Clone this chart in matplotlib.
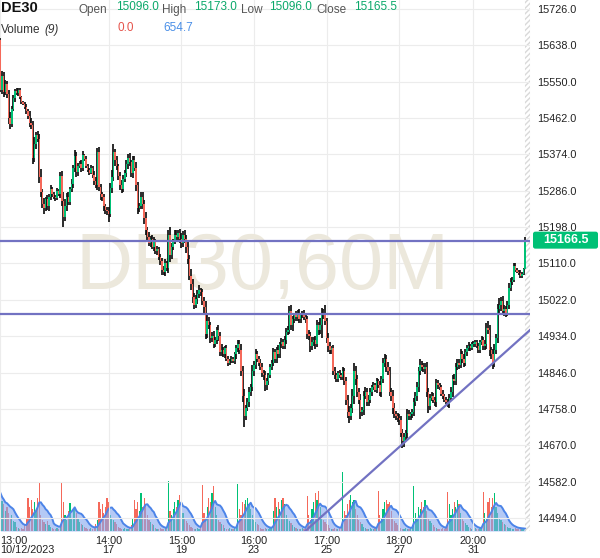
import numpy as np
import pandas as pd
import matplotlib
matplotlib.use("Agg")
import matplotlib.pyplot as plt
from matplotlib.patches import Rectangle, FancyBboxPatch

plt.rcParams['font.family'] = ['Liberation Sans', 'DejaVu Sans']

# hourly DE30 bars, 12 Oct 13:00 .. 2 Nov
first_open = 15651.0
close = [
    15530, 15565, 15525, 15545, 15520, 15462, 15448, 15485, 15510, 15528, 15522, 15530, 15512, 15500, 15496, 15488, 15478, 15468, 15450, 15445,
    15365, 15400, 15420, 15412, 15320, 15282, 15255, 15245, 15265, 15248, 15270, 15290, 15278, 15272, 15268, 15285, 15278, 15322, 15262, 15222,
    15250, 15272, 15260, 15290, 15302, 15340, 15370, 15332, 15346, 15352, 15340, 15372, 15364, 15345, 15336, 15330, 15342, 15325, 15310, 15300,
    15380, 15295, 15278, 15270, 15250, 15240, 15236, 15230, 15292, 15320, 15380, 15360, 15345, 15322, 15300, 15290, 15315, 15330, 15350, 15366,
    15355, 15330, 15360, 15342, 15300, 15245, 15250, 15272, 15255, 15220, 15190, 15175, 15160, 15170, 15150, 15165, 15140, 15145, 15125, 15115,
    15095, 15090, 15110, 15100, 15180, 15130, 15150, 15162, 15180, 15175, 15185, 15170, 15160, 15180, 15170, 15150, 15120, 15080, 15060, 15030,
    15010, 15025, 15035, 15045, 15040, 15020, 15005, 14940, 14970, 14960, 14930, 14935, 14915, 14925, 14950, 14935, 14895, 14900, 14890, 14905,
    14880, 14870, 14875, 14880, 14875, 14890, 14905, 14915, 14900, 14850, 14790, 14740, 14760, 14775, 14800, 14810, 14850, 14865, 14890, 14880,
    14870, 14860, 14845, 14840, 14815, 14825, 14840, 14860, 14870, 14895, 14880, 14900, 14890, 14915, 14920, 14910, 14925, 14945, 14950, 14995,
    14960, 14975, 14985, 14980, 14990, 14975, 14985, 14990, 14980, 14975, 14940, 14935, 14910, 14920, 14925, 14915, 14960, 14950, 14960, 14990,
    14985, 14970, 14930, 14910, 14900, 14905, 14850, 14840, 14830, 14845, 14840, 14835, 14850, 14825, 14780, 14750, 14740, 14760, 14790, 14850,
    14830, 14800, 14780, 14750, 14755, 14790, 14800, 14775, 14780, 14800, 14810, 14815, 14805, 14825, 14815, 14800, 14830, 14870, 14880, 14860,
    14850, 14800, 14790, 14760, 14745, 14740, 14735, 14730, 14700, 14680, 14690, 14700, 14745, 14740, 14745, 14750, 14775, 14790, 14810, 14850,
    14865, 14860, 14855, 14860, 14800, 14765, 14785, 14790, 14780, 14775, 14820, 14815, 14810, 14795, 14790, 14780, 14775, 14770, 14785, 14800,
    14830, 14825, 14860, 14870, 14865, 14890, 14880, 14870, 14895, 14905, 14910, 14905, 14915, 14915, 14920, 14910, 14900, 14920, 14925, 14910,
    14915, 14955, 14950, 14900, 14890, 14870, 14900, 14930, 15000, 15010, 15020, 14995, 15000, 14990, 15010, 15050, 15065, 15070, 15105, 15095,
    15090, 15088, 15080, 15085, 15096, 15165.5,
]
wick_up = [
    4, 12, 8, 10, 6, 9, 14, 6, 8, 5, 6, 4, 5, 3, 4, 6, 8, 5, 10, 12,
    9, 15, 8, 10, 12, 18, 9, 14, 6, 11, 8, 10, 5, 6, 4, 7, 5, 9, 12, 20,
    16, 8, 10, 6, 12, 9, 14, 10, 7, 6, 8, 10, 4, 6, 5, 4, 6, 5, 8, 10,
    10, 12, 8, 6, 9, 5, 7, 10, 14, 16, 20, 8, 10, 6, 9, 12, 8, 6, 10, 8,
    12, 6, 9, 10, 14, 8, 6, 12, 10, 8, 14, 9, 12, 6, 10, 8, 5, 7, 6, 9,
    8, 10, 12, 6, 10, 18, 9, 8, 12, 10, 6, 8, 14, 9, 10, 8, 12, 10, 16, 12,
    9, 8, 10, 12, 6, 8, 10, 14, 16, 10, 8, 9, 12, 8, 6, 10, 8, 14, 9, 6,
    8, 6, 5, 7, 4, 6, 8, 10, 9, 14, 12, 16, 8, 10, 12, 9, 14, 10, 12, 8,
    6, 8, 10, 6, 9, 8, 5, 7, 6, 10, 9, 8, 12, 6, 10, 8, 9, 10, 8, 12,
    14, 8, 6, 9, 8, 10, 6, 5, 7, 6, 8, 10, 9, 12, 8, 10, 14, 9, 18, 12,
    10, 25, 8, 12, 9, 6, 8, 10, 6, 5, 7, 6, 9, 8, 10, 12, 14, 10, 16, 20,
    12, 10, 9, 14, 8, 12, 10, 9, 12, 8, 6, 8, 5, 7, 6, 10, 8, 12, 10, 9,
    12, 10, 8, 14, 12, 9, 8, 10, 12, 9, 10, 8, 12, 10, 6, 8, 9, 10, 12, 10,
    14, 9, 8, 10, 12, 8, 10, 9, 6, 8, 10, 7, 5, 6, 8, 5, 7, 6, 8, 10,
    9, 12, 10, 8, 9, 12, 8, 10, 9, 8, 10, 6, 5, 7, 6, 5, 8, 6, 9, 8,
    10, 12, 16, 10, 9, 12, 14, 10, 12, 16, 10, 12, 9, 8, 10, 12, 9, 8, 6, 5,
    4, 5, 6, 4, 3, 7.5,
]
wick_dn = [
    6, 10, 12, 8, 10, 14, 12, 8, 6, 9, 5, 6, 4, 5, 3, 4, 5, 8, 10, 9,
    14, 10, 12, 8, 15, 12, 10, 14, 9, 8, 10, 6, 8, 5, 6, 4, 5, 10, 12, 24,
    10, 12, 8, 9, 6, 10, 8, 12, 10, 6, 8, 5, 6, 4, 5, 6, 4, 7, 9, 8,
    12, 10, 14, 8, 12, 10, 9, 20, 8, 12, 10, 14, 8, 10, 12, 9, 6, 8, 10, 12,
    8, 10, 12, 9, 14, 16, 10, 8, 12, 14, 10, 12, 8, 10, 6, 9, 8, 10, 6, 8,
    12, 9, 10, 8, 14, 16, 10, 8, 6, 9, 8, 10, 12, 9, 10, 14, 12, 10, 14, 16,
    10, 8, 12, 9, 8, 10, 14, 12, 10, 8, 12, 10, 9, 8, 10, 12, 8, 10, 6, 8,
    7, 8, 6, 5, 6, 8, 10, 9, 8, 12, 16, 26, 10, 8, 12, 10, 9, 12, 10, 8,
    9, 8, 10, 12, 14, 10, 8, 6, 9, 8, 12, 10, 8, 9, 10, 8, 6, 9, 8, 10,
    12, 14, 10, 8, 9, 10, 8, 6, 7, 8, 12, 10, 14, 9, 10, 12, 8, 14, 10, 30,
    10, 8, 12, 14, 10, 8, 9, 10, 6, 8, 7, 6, 8, 10, 12, 14, 16, 10, 12, 20,
    14, 12, 10, 16, 10, 12, 8, 10, 9, 8, 10, 7, 6, 8, 7, 10, 12, 9, 10, 12,
    9, 10, 12, 14, 10, 9, 8, 12, 10, 16, 14, 10, 12, 9, 8, 10, 8, 9, 12, 10,
    9, 10, 8, 12, 14, 16, 10, 9, 8, 10, 12, 9, 7, 6, 8, 6, 5, 8, 10, 9,
    12, 10, 8, 9, 10, 8, 12, 10, 8, 10, 8, 6, 5, 6, 8, 5, 7, 6, 8, 10,
    9, 12, 10, 14, 12, 15, 10, 8, 12, 10, 14, 9, 12, 10, 8, 9, 6, 8, 5, 6,
    4, 5, 6, 4, 3, 0,
]
# volume in hundreds of lots
volume = [
    34, 27, 24, 18, 22, 16, 12, 14, 9, 8, 4, 3, 2, 3, 2, 5,
    12, 30, 22, 28, 20, 26, 18, 30, 44, 14, 10, 8, 6, 9, 5, 4, 3, 2, 2, 3, 2, 5,
    44, 26, 14, 10, 18, 25, 12, 20, 22, 16, 12, 8, 6, 5, 4, 3, 2, 2, 3, 2, 3, 6,
    10, 26, 20, 24, 16, 22, 30, 26, 14, 12, 10, 8, 6, 4, 3, 2, 2, 3, 2, 2, 3, 5,
    12, 28, 20, 26, 18, 34, 22, 30, 24, 14, 10, 8, 6, 5, 3, 2, 2, 3, 2, 2, 3, 4,
    45, 18, 14, 20, 26, 22, 28, 32, 26, 16, 12, 9, 7, 5, 4, 3, 2, 2, 3, 2, 4,
    41, 16, 12, 22, 30, 26, 34, 40, 22, 14, 10, 8, 6, 5, 3, 2, 2, 3, 2, 2, 3, 5,
    42, 20, 14, 26, 24, 28, 30, 24, 20, 14, 10, 8, 6, 5, 3, 2, 2, 3, 2, 2, 3, 4,
    18, 30, 22, 26, 20, 28, 30, 24, 14, 12, 9, 7, 5, 4, 3, 2, 2, 2, 3, 2, 4,
    31, 14, 10, 20, 26, 34, 28, 36, 22, 14, 10, 8, 6, 5, 3, 2, 2, 3, 2, 2, 3, 5,
    53, 18, 14, 24, 28, 32, 26, 28, 20, 14, 10, 8, 6, 4, 3, 2, 2, 3, 2, 2, 3, 4,
    36, 14, 12, 20, 26, 28, 24, 26, 18, 12, 9, 7, 5, 4, 3, 2, 2, 3, 2, 2, 3, 5,
    40, 16, 12, 22, 20, 26, 22, 28, 18, 12, 9, 7, 5, 4, 3, 2, 2, 2, 3, 2, 4,
    35, 24, 14, 20, 26, 22, 28, 24, 16, 12, 9, 7, 5, 4, 3, 2, 2, 3, 2, 2, 3, 4,
    35, 16, 12, 26, 30, 22, 30, 34, 22, 16, 12, 10, 8, 6, 5, 4, 3, 3, 2, 2, 3, 2, 2, 3, 2, 2, 1,
]

tick_pos = [0, 67, 112, 157, 202, 247, 293]
tick_lab = ['13:00\n10/12/2023', '14:00\n17', '15:00\n19', '16:00\n23',
            '17:00\n25', '18:00\n27', '20:00\n31']
price_ticks = [14494, 14582, 14670, 14758, 14846, 14934, 15022, 15110,
               15198, 15286, 15374, 15462, 15550, 15638, 15726]
levels = [15164.0, 14988.0]
trend_x = [189, 328]
trend_y = [14463, 14949]
last_quote = 15166.5

head_names = ['Open', 'High', 'Low', 'Close']
head_vals = [15096.0, 15173.0, 15096.0, 15165.5]
vol_vals = [0.0, 654.7]

GREEN = '#00c176'
RED = '#f5695a'
LINE = '#7272c2'

n = min(len(close), len(wick_up), len(wick_dn), len(volume))
c = np.array(close[:n], dtype=float)
o = np.r_[first_open, c[:-1]]
hi = np.maximum(o, c) + np.array(wick_up[:n])
lo = np.minimum(o, c) - np.array(wick_dn[:n])
vol = np.array(volume[:n], dtype=float)
x = np.arange(n)
cols = np.where(c >= o, GREEN, RED)

W, H = 600, 558
fig = plt.figure(figsize=(W / 100, H / 100), dpi=100)
rect = [0, 27 / H, 530 / W, 531 / H]
ax_v = fig.add_axes(rect, zorder=1)
ax_p = fig.add_axes(rect, zorder=2, facecolor='none')
xlim = (-0.3, 328.0)
ylim = (14462.5, 15747.8)

# volume pane with 9-bar average
sma = pd.Series(vol).rolling(9, min_periods=1).mean()
ax_v.bar(x, vol, width=0.75, color=cols, linewidth=0)
ax_v.fill_between(x, 0, sma, color='#86a9f0', alpha=0.62, linewidth=0)
ax_v.plot(x, sma, color='#4c84e8', lw=1.4)
ax_v.set_xlim(xlim)
ax_v.set_ylim(0, 9 * vol.max())
ax_v.axis('off')

# hatched strip at right edge
fig.patches.append(Rectangle((525 / W, 27 / H), 5 / W, 531 / H, transform=fig.transFigure,
                             facecolor='none', edgecolor='#d9d9d9', hatch='//////',
                             lw=0.01, zorder=1.5))

# candles
ax_p.text(0.496, 0.455, 'DE30,60M', transform=ax_p.transAxes, ha='center', va='baseline',
          fontsize=57, color='#ece8dc', zorder=1)
ax_p.vlines(x, lo, hi, color='#111111', lw=1.25, zorder=3)
ax_p.bar(x, np.maximum(np.abs(c - o), 1.5), bottom=np.minimum(o, c), width=0.9,
         color=cols, linewidth=0, zorder=4)

for lv in levels:
    ax_p.axhline(lv, color=LINE, lw=1.6, zorder=5)
ax_p.plot(trend_x, trend_y, color=LINE, lw=1.6, zorder=5)

ax_p.set_xlim(xlim)
ax_p.set_ylim(ylim)
ax_p.set_yticks(price_ticks, ['%.1f' % p for p in price_ticks])
ax_p.yaxis.tick_right()
ax_p.set_xticks(tick_pos, tick_lab)
ax_p.tick_params(axis='y', length=0, pad=5, labelsize=7.8, labelcolor='#222222')
ax_p.tick_params(axis='x', length=0, pad=3.5, labelsize=7.8, labelcolor='#222222')
for lab in ax_p.get_xticklabels():
    lab.set_linespacing(0.95)
ax_p.get_xticklabels()[0].set_horizontalalignment('left')
ax_p.grid(True, color='#ececec', lw=0.8)
ax_p.set_axisbelow(True)
for s in ax_p.spines.values():
    s.set_visible(False)

# last price tag
yc = (27 + (last_quote - ylim[0]) / (ylim[1] - ylim[0]) * 531) / H
fig.patches.append(FancyBboxPatch((533 / W, yc - 8.5 / H), 65 / W, 17 / H,
                                  boxstyle='round,pad=0,rounding_size=0.004',
                                  transform=fig.transFigure, facecolor=GREEN,
                                  edgecolor='none', zorder=3))
fig.text(566 / W, yc, '%.1f' % last_quote, color='white', fontsize=9, fontweight='bold',
         ha='center', va='center', zorder=4)


def ftext(px, py, s, **kw):
    # py is the text baseline, in pixels from the top
    fig.text(px / W, 1 - py / H, s, va='baseline', ha='left', **kw)


ftext(1, 12.5, 'DE30', fontsize=10.5, fontweight='bold', color='#111111')
name_x = [79, 162, 241, 316]
val_x = [116, 194, 269, 354]
for nm, v, nx, vx in zip(head_names, head_vals, name_x, val_x):
    ftext(nx, 12.7, nm, fontsize=8.5, color='#555555')
    ftext(vx, 9.5, '%.1f' % v, fontsize=8.5, color='#0aa86a')
ftext(1, 33, 'Volume', fontsize=8.5, color='#333333')
ftext(44, 33, '(9)', fontsize=8.5, color='#333333', style='italic')
ftext(117, 31, '%.1f' % vol_vals[0], fontsize=8.5, color='#e5534b')
ftext(163, 31, '%.1f' % vol_vals[1], fontsize=8.5, color='#4a8fe7')

fig.savefig('out.png', dpi=100)
